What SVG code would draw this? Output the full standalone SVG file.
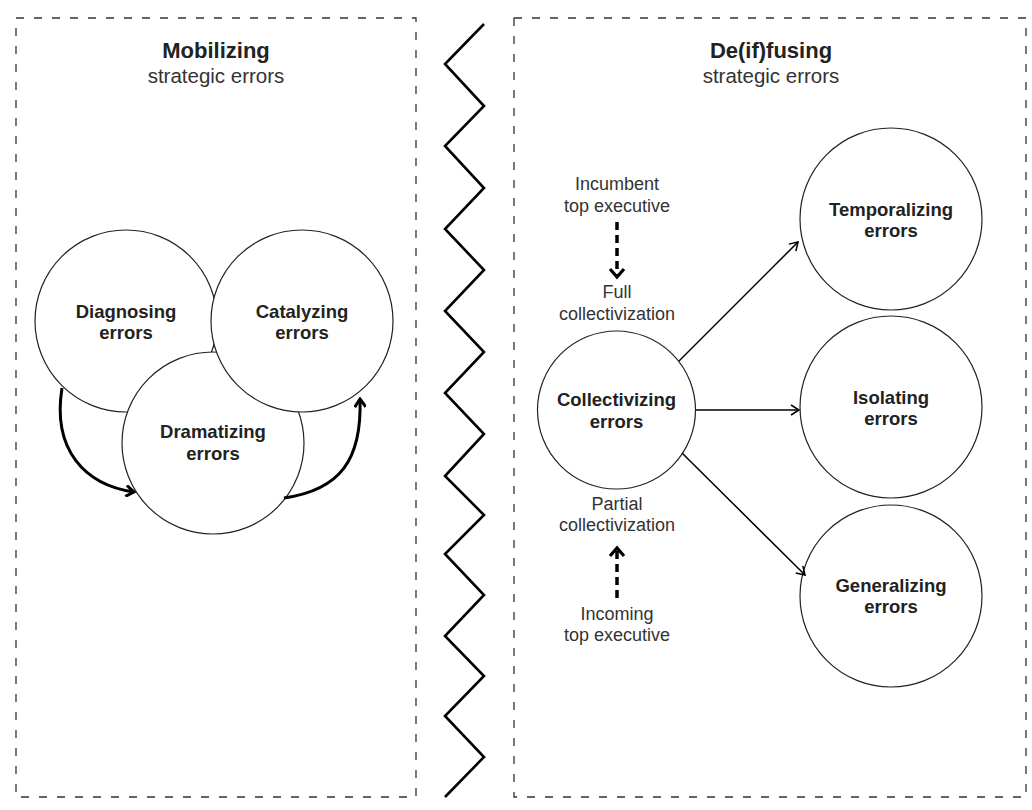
<svg xmlns="http://www.w3.org/2000/svg" width="1032" height="810" viewBox="0 0 1032 810">
<style>
.frame{fill:none;stroke:#333;stroke-width:1.3;stroke-dasharray:8 10}
.node{fill:#fff;stroke:#222;stroke-width:1.2}
.lbl{font-family:"Liberation Sans",Arial,sans-serif;font-weight:bold;font-size:18.5px;fill:#222;text-anchor:middle}
.ttl{font-family:"Liberation Sans",Arial,sans-serif;font-weight:bold;font-size:22px;fill:#222;text-anchor:middle}
.sub{font-family:"Liberation Sans",Arial,sans-serif;font-size:20.5px;fill:#333;text-anchor:middle}
.note{font-family:"Liberation Sans",Arial,sans-serif;font-size:18px;fill:#333;text-anchor:middle}
.thick{fill:none;stroke:#000;stroke-width:3}
.thin{fill:none;stroke:#000;stroke-width:1.5}
.dash{fill:none;stroke:#000;stroke-width:3.5;stroke-dasharray:8 5}
</style>
<defs>
<marker id="hThick" markerWidth="12" markerHeight="12" viewBox="-10 -6 12 12" refX="0" refY="0" orient="auto" markerUnits="userSpaceOnUse">
<path d="M-8,-5.5 L0,0 L-8,5.5" fill="none" stroke="#000" stroke-width="3"/>
</marker>
<marker id="hThin" markerWidth="12" markerHeight="12" viewBox="-10 -6 12 12" refX="0" refY="0" orient="auto" markerUnits="userSpaceOnUse">
<path d="M-8,-5 L0,0 L-8,5" fill="none" stroke="#000" stroke-width="1.5"/>
</marker>
</defs>
<rect width="1032" height="810" fill="#fff"/>

<g id="frames">
<rect class="frame" x="16" y="18" width="400" height="779"/>
<rect class="frame" x="514" y="18" width="512" height="779"/>
<polyline fill="none" stroke="#000" stroke-width="2.6" stroke-linejoin="miter" points="484,24 445,64 484,106 445,146 484,188 445,229 484,270 445,311 484,352 445,393 484,434 445,476 484,515 445,554 484,595 445,636 484,676 445,716 484,757 445,797"/>
</g>

<g id="titles">
<text class="ttl" x="216" y="58">Mobilizing</text>
<text class="sub" x="216" y="83">strategic errors</text>
<text class="ttl" x="771" y="58">De(if)fusing</text>
<text class="sub" x="771" y="83">strategic errors</text>
</g>

<g id="node-diagnosing">
<circle class="node" cx="126" cy="321" r="91"/>
<text class="lbl" x="126" y="318">Diagnosing</text>
<text class="lbl" x="126" y="339">errors</text>
</g>
<g id="node-dramatizing">
<circle class="node" cx="213" cy="443" r="91"/>
<text class="lbl" x="213" y="438">Dramatizing</text>
<text class="lbl" x="213" y="460">errors</text>
</g>
<g id="node-catalyzing">
<circle class="node" cx="302" cy="321" r="91"/>
<text class="lbl" x="302" y="318">Catalyzing</text>
<text class="lbl" x="302" y="339">errors</text>
</g>

<g id="node-collectivizing">
<circle class="node" cx="616.5" cy="410" r="79"/>
<text class="lbl" x="616.5" y="406">Collectivizing</text>
<text class="lbl" x="616.5" y="428">errors</text>
</g>
<g id="node-temporalizing">
<circle class="node" cx="891" cy="219" r="91"/>
<text class="lbl" x="891" y="216">Temporalizing</text>
<text class="lbl" x="891" y="237">errors</text>
</g>
<g id="node-isolating">
<circle class="node" cx="891" cy="407" r="91"/>
<text class="lbl" x="891" y="404">Isolating</text>
<text class="lbl" x="891" y="425">errors</text>
</g>
<g id="node-generalizing">
<circle class="node" cx="891" cy="596" r="91"/>
<text class="lbl" x="891" y="592">Generalizing</text>
<text class="lbl" x="891" y="613">errors</text>
</g>

<g id="labels">
<text class="note" x="617" y="190">Incumbent</text>
<text class="note" x="617" y="212">top executive</text>
<text class="note" x="617" y="298">Full</text>
<text class="note" x="617" y="320">collectivization</text>
<text class="note" x="617" y="510">Partial</text>
<text class="note" x="617" y="531">collectivization</text>
<text class="note" x="617" y="620">Incoming</text>
<text class="note" x="617" y="641">top executive</text>
</g>

<g id="connectors">
<path class="thick" d="M62,388 C52,450 85,485 134,492" marker-end="url(#hThick)"/>
<path class="thick" d="M284,498 C340,490 362,460 360,399" marker-end="url(#hThick)"/>
<line class="thin" x1="679" y1="361" x2="798" y2="242" marker-end="url(#hThin)"/>
<line class="thin" x1="696" y1="410" x2="799" y2="410" marker-end="url(#hThin)"/>
<line class="thin" x1="682" y1="453" x2="805" y2="575" marker-end="url(#hThin)"/>
<line class="dash" x1="617" y1="222" x2="617" y2="276"/>
<path d="M610,269 L617,277 L624,269" fill="none" stroke="#000" stroke-width="3.2"/>
<line class="dash" x1="617" y1="598" x2="617" y2="549"/>
<path d="M610,556 L617,548 L624,556" fill="none" stroke="#000" stroke-width="3.2"/>
</g>
</svg>
